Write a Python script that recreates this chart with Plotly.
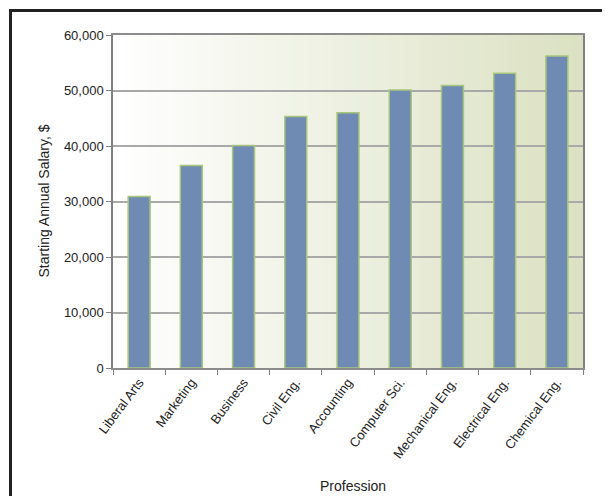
import plotly.graph_objects as go

professions = ["Liberal Arts", "Marketing", "Business", "Civil Eng.", "Accounting",
               "Computer Sci.", "Mechanical Eng.", "Electrical Eng.", "Chemical Eng."]
salaries = [30900, 36500, 40100, 45300, 46000, 50100, 50900, 53100, 56200]
y_ticks = [0, 10000, 20000, 30000, 40000, 50000, 60000]
y_tick_text = ["0", "10,000", "20,000", "30,000", "40,000", "50,000", "60,000"]

W, H = 605, 496
ML, MR, MT, MB = 113, 22, 35, 128
PW, PH = W - ML - MR, H - MT - MB

FONT = "Liberation Sans, Arial, sans-serif"
TEXT = "#222222"


def px_x(v):
    return (v - ML) / PW


def px_y(v):
    return (H - MB - v) / PH


fig = go.Figure(go.Bar(
    x=professions, y=salaries,
    marker=dict(color="#6f8ab3", line=dict(color="#a8c57c", width=1.5)),
))

# Horizontal white-to-olive gradient behind the plot area
shapes = []
n = 94
c0 = (255, 255, 255)
c1 = (219, 225, 194)
for i in range(n):
    t = (i + 0.5) / n
    col = tuple(round(a + (b - a) * t) for a, b in zip(c0, c1))
    shapes.append(dict(type="rect", xref="paper", yref="paper",
                       x0=i / n, x1=(i + 1) / n + 0.002, y0=0, y1=1,
                       fillcolor="rgb(%d,%d,%d)" % col, line=dict(width=0),
                       layer="below"))

# Dark outer frame: left and top edges as one open path
path = "M %f,%f L %f,%f L %f,%f" % (
    px_x(10.5), px_y(H), px_x(10.5), px_y(10.5), px_x(W - 3), px_y(10.5))
shapes.append(dict(type="path", xref="paper", yref="paper", path=path,
                   line=dict(color="#222222", width=3), layer="above"))

fig.update_layout(
    width=W, height=H,
    margin=dict(l=ML, r=MR, t=MT, b=MB, autoexpand=False),
    paper_bgcolor="white", plot_bgcolor="white",
    font=dict(family=FONT, size=13, color=TEXT),
    bargap=0.58,
    showlegend=False,
    shapes=shapes,
    xaxis=dict(
        tickangle=-53, tickson="boundaries", ticks="outside", ticklen=5,
        tickcolor="#808080", showline=True, linecolor="#8c8c8c", linewidth=1.5,
        mirror=True, showgrid=False, automargin=False,
        tickfont=dict(family=FONT, size=13, color=TEXT),
    ),
    yaxis=dict(
        range=[0, 60000], tickvals=y_ticks, ticktext=y_tick_text,
        ticks="outside", ticklen=5, tickcolor="#808080",
        showline=True, linecolor="#808080", linewidth=1.5, mirror=True,
        showgrid=True, gridcolor="#a9a9a9", gridwidth=1.5, zeroline=False,
        automargin=False, tickfont=dict(family=FONT, size=13, color=TEXT),
    ),
    annotations=[
        dict(text="Starting Annual Salary, $", xref="paper", yref="paper",
             x=px_x(43), y=0.5, textangle=-90, showarrow=False,
             xanchor="center", yanchor="middle",
             font=dict(family=FONT, size=14, color=TEXT)),
        dict(text="Profession", xref="paper", yref="paper",
             x=px_x(353), y=px_y(486), showarrow=False,
             xanchor="center", yanchor="middle",
             font=dict(family=FONT, size=14, color=TEXT)),
    ],
)

fig.write_html("out.html")
